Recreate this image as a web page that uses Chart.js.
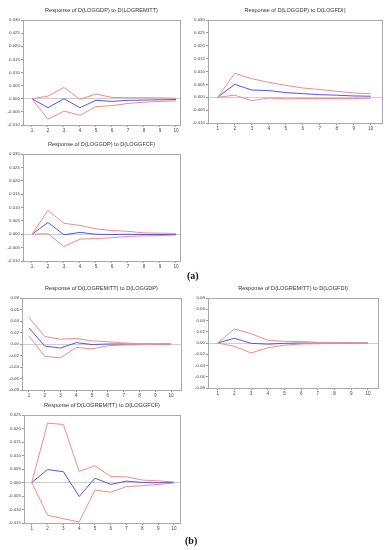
<!DOCTYPE html>
<html><head><meta charset="utf-8">
<script src="https://cdn.jsdelivr.net/npm/chart.js@4.4.1/dist/chart.umd.min.js"></script>
<style>
html,body{margin:0;padding:0;background:#fff;width:388px;height:550px;overflow:hidden;}
canvas{position:absolute;left:0;top:0;}
.lab{position:absolute;font-family:"Liberation Serif","DejaVu Serif",serif;font-weight:bold;font-size:10px;color:#111;}
</style></head>
<body>
<canvas id="c1" width="388" height="550"></canvas>
<canvas id="c2" width="388" height="550"></canvas>
<canvas id="c3" width="388" height="550"></canvas>
<canvas id="c4" width="388" height="550"></canvas>
<canvas id="c5" width="388" height="550"></canvas>
<canvas id="c6" width="388" height="550"></canvas>
<div class="lab" style="left:187px;top:270px;">(a)</div>
<div class="lab" style="left:185px;top:535px;">(b)</div>
<script>
// ---- data ----
const periods = [1,2,3,4,5,6,7,8,9,10];

const gdpRemittResp  = [0, -0.0034, 0, -0.0034, -0.0006, -0.0010, -0.0006, -0.0005, -0.0004, -0.0003];
const gdpRemittUpper = [0, 0.0010, 0.0043, -0.0002, 0.0018, 0.0005, 0.0004, 0.0004, 0.0003, 0.0002];
const gdpRemittLower = [0, -0.0078, -0.0047, -0.0063, -0.0030, -0.0026, -0.0018, -0.0013, -0.0010, -0.0008];

const gdpFdiResp  = [0, 0.0050, 0.0028, 0.0026, 0.0018, 0.0014, 0.0010, 0.0008, 0.0005, 0.0004];
const gdpFdiUpper = [0, 0.0093, 0.0072, 0.0058, 0.0046, 0.0036, 0.0030, 0.0023, 0.0017, 0.0013];
const gdpFdiLower = [0, 0.0008, -0.0013, -0.0003, -0.0006, -0.0005, -0.0005, -0.0005, -0.0005, -0.0004];

const gdpGfcfResp  = [0, 0.0044, -0.0002, 0.0007, 0, -0.0001, 0, -0.0001, -0.0001, -0.0001];
const gdpGfcfUpper = [0, 0.0089, 0.0041, 0.0033, 0.0020, 0.0014, 0.0011, 0.0005, 0.0004, 0.0003];
const gdpGfcfLower = [0, 0.0002, -0.0046, -0.0018, -0.0016, -0.0013, -0.0008, -0.0006, -0.0005, -0.0003];

const remGdpResp  = [0.028, -0.0036, -0.007, 0.0024, -0.001, 0, 0, 0, 0, 0];
const remGdpUpper = [0.046, 0.013, 0.0084, 0.0096, 0.0054, 0.004, 0.0018, 0.0006, 0.0002, 0];
const remGdpLower = [0.014, -0.0215, -0.024, -0.006, -0.0084, -0.003, -0.0018, -0.001, -0.0005, 0];

const remFdiResp  = [0, 0.0085, -0.0006, -0.002, -0.0006, 0, 0, 0, 0, 0];
const remFdiUpper = [0, 0.025, 0.0165, 0.005, 0.003, 0.0025, 0.0012, 0.0006, 0.0003, 0];
const remFdiLower = [0, -0.006, -0.0177, -0.0085, -0.0037, -0.0018, -0.0012, -0.0006, -0.0003, 0];

const remGfcfResp  = [0, 0.0048, 0.0040, -0.0052, 0.0016, -0.0007, 0.0005, 0, -0.0001, 0];
const remGfcfUpper = [0, 0.0220, 0.0215, 0.0041, 0.0062, 0.0022, 0.0021, 0.0009, 0.0006, 0.0002];
const remGfcfLower = [0, -0.0121, -0.0134, -0.0146, -0.0028, -0.0036, -0.0015, -0.0012, -0.0007, -0.0002];

const titles = [
  "Response of D(LOGGDP) to D(LOGREMITT)",
  "Response of D(LOGGDP) to D(LOGFDI)",
  "Response of D(LOGGDP) to D(LOGGFCF)",
  "Response of D(LOGREMITT) to D(LOGGDP)",
  "Response of D(LOGREMITT) to D(LOGFDI)",
  "Response of D(LOGREMITT) to D(LOGGFCF)"
];

// ---- drawing ----
const W = 388, H = 550, YW = 22, XH = 11;
const boxPlugin = {
  id: 'boxTitle',
  afterDraw(chart, args, opts) {
    const a = chart.chartArea, c = chart.ctx;
    c.save();
    c.strokeStyle = '#a8a8a8'; c.lineWidth = 1;
    c.strokeRect(Math.round(a.left) + 0.5, Math.round(a.top) + 0.5, Math.round(a.right - a.left), Math.round(a.bottom - a.top));
    c.fillStyle = '#333';
    c.font = '5.6px "Liberation Sans", Arial, sans-serif';
    c.textAlign = 'center'; c.textBaseline = 'middle';
    c.fillText(opts.text, (a.left + a.right) / 2, a.top - 10);
    c.restore();
  }
};

function pts(arr) { return periods.map((p, i) => ({x: p, y: arr[i]})); }

function panel(id, title, resp, up, lo, plot, yr, xr) {
  const dec = yr.dec;
  new Chart(document.getElementById(id), {
    type: 'line',
    data: {
      datasets: [
        {data: pts(up), borderColor: '#f08c8c', borderWidth: 1, pointRadius: 0, tension: 0},
        {data: pts(lo), borderColor: '#f08c8c', borderWidth: 1, pointRadius: 0, tension: 0},
        {data: pts(resp), borderColor: '#5555e0', borderWidth: 1, pointRadius: 0, tension: 0}
      ]
    },
    options: {
      responsive: false, animation: false, events: [],
      layout: {padding: {left: plot.l - YW, top: plot.t, right: W - plot.r, bottom: H - plot.b - XH}},
      plugins: {legend: {display: false}, tooltip: {enabled: false}, boxTitle: {text: title}},
      scales: {
        x: {
          type: 'linear', min: xr[0], max: xr[1],
          afterBuildTicks: s => { s.ticks = periods.map(v => ({value: v})); },
          afterFit: s => { s.height = XH; },
          border: {display: false},
          grid: {drawOnChartArea: false, tickLength: 2, tickColor: '#999'},
          ticks: {font: {size: 4.6, family: '"Liberation Sans", Arial, sans-serif'}, color: '#444', padding: 1, maxRotation: 0, autoSkip: false}
        },
        y: {
          min: yr.min, max: yr.max,
          afterFit: s => { s.width = YW; },
          border: {display: false},
          grid: {
            color: c => (Math.abs(c.tick.value) < 1e-9 ? '#cfcfcf' : 'rgba(0,0,0,0)'),
            tickColor: '#999', tickLength: 2, lineWidth: 1
          },
          ticks: {
            stepSize: yr.step, autoSkip: false,
            font: {size: 4.4, family: '"Liberation Sans", Arial, sans-serif'}, color: '#444', padding: 1,
            callback: v => { const r = Math.round(v * 1e6) / 1e6; return (r === 0 ? 0 : r).toFixed(dec); }
          }
        }
      }
    },
    plugins: [boxPlugin]
  });
}

const yA = {min: -0.010, max: 0.030, step: 0.005, dec: 3};
const yB = {min: -0.08, max: 0.08, step: 0.02, dec: 2};
const yC = {min: -0.015, max: 0.025, step: 0.005, dec: 3};

panel('c1', titles[0], gdpRemittResp, gdpRemittUpper, gdpRemittLower, {l: 23, t: 20, r: 180, b: 125}, yA, [0.44, 10.25]);
panel('c2', titles[1], gdpFdiResp, gdpFdiUpper, gdpFdiLower, {l: 208, t: 20, r: 382, b: 123}, yA, [0.43, 10.66]);
panel('c3', titles[2], gdpGfcfResp, gdpGfcfUpper, gdpGfcfLower, {l: 23, t: 154, r: 180, b: 261}, yA, [0.44, 10.25]);
panel('c4', titles[3], remGdpResp, remGdpUpper, remGdpLower, {l: 22, t: 298, r: 181, b: 390}, yB, [0.56, 10.63]);
panel('c5', titles[4], remFdiResp, remFdiUpper, remFdiLower, {l: 208, t: 298, r: 378, b: 388}, yB, [0.42, 10.6]);
panel('c6', titles[5], remGfcfResp, remGfcfUpper, remGfcfLower, {l: 24, t: 415, r: 180, b: 523}, yC, [0.51, 10.38]);
</script>
</body></html>
